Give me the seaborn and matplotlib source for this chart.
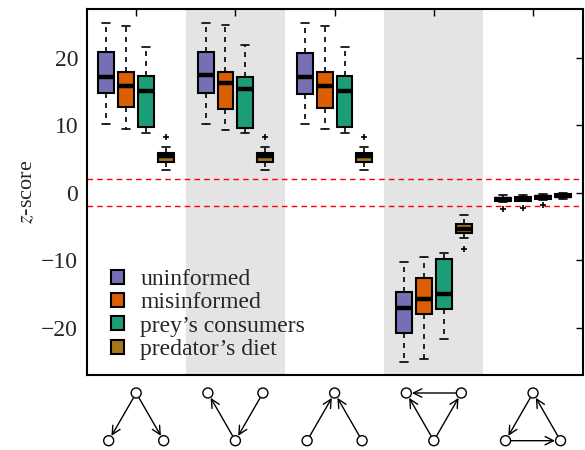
import numpy as np
import pandas as pd
import matplotlib
matplotlib.use("Agg")
import matplotlib.pyplot as plt
from matplotlib.patches import Patch, Circle
import seaborn as sns

# ---------------- data (five-number summaries) ----------------
motifs = ["M1", "M2", "M3", "M4", "M5"]
groups = ["uninformed", "misinformed", "prey\u2019s consumers", "predator\u2019s diet"]
colors = ["#7570b3", "#d95f02", "#1b9e77", "#a6761d"]

# [whisker low, Q1, median, Q3, whisker high] per motif
uninformed = [
    [10.2, 14.7, 17.1, 20.8, 25.1],
    [10.2, 14.7, 17.4, 20.9, 25.2],
    [10.2, 14.6, 17.1, 20.7, 25.1],
    [-25.1, -20.8, -17.1, -14.7, -10.2],
    [-1.35, -1.25, -1.0, -0.75, -0.4],
]
misinformed = [
    [9.5, 12.65, 15.8, 17.9, 24.7],
    [9.3, 12.4, 16.25, 17.8, 24.8],
    [9.5, 12.6, 15.8, 17.8, 24.7],
    [-24.7, -17.9, -15.8, -12.6, -9.5],
    [-1.3, -1.2, -0.95, -0.7, -0.35],
]
prey_consumers = [
    [8.9, 9.7, 15.0, 17.3, 21.6],
    [8.8, 9.6, 15.3, 17.2, 21.8],
    [8.8, 9.7, 15.0, 17.3, 21.6],
    [-21.6, -17.3, -15.0, -9.8, -8.9],
    [-1.1, -1.0, -0.7, -0.45, -0.2],
]
predator_diet = [
    [3.3, 4.6, 5.4, 5.9, 6.7],
    [3.3, 4.6, 5.4, 5.9, 6.7],
    [3.3, 4.6, 5.4, 5.9, 6.7],
    [-6.7, -5.9, -5.4, -4.6, -3.3],
    [-0.95, -0.7, -0.45, -0.25, -0.05],
]
# outliers per motif
uninformed_out = [[], [], [], [], [-2.4]]
misinformed_out = [[], [], [], [], [-2.3]]
prey_consumers_out = [[], [], [], [], [-1.9]]
predator_diet_out = [[8.3], [8.3], [8.3], [-8.3], []]

threshold = 1.96

# motif structure: node slots and directed edges
motif_nodes = [
    ["T", "BL", "BR"],
    ["TL", "TR", "B"],
    ["T", "BL", "BR"],
    ["TL", "TR", "B"],
    ["T", "BL", "BR"],
]
motif_edges = [
    [("T", "BL"), ("T", "BR")],
    [("B", "TL"), ("TR", "B")],
    [("BL", "T"), ("BR", "T")],
    [("TR", "TL"), ("B", "TL"), ("B", "TR")],
    [("T", "BL"), ("BL", "BR"), ("BR", "T")],
]

# ---------------- build long table for seaborn ----------------
summaries = [uninformed, misinformed, prey_consumers, predator_diet]
outliers = [uninformed_out, misinformed_out, prey_consumers_out, predator_diet_out]
rows = []
REP = 20
for g, summ, outs in zip(groups, summaries, outliers):
    for m, s, o in zip(motifs, summ, outs):
        vals = list(np.repeat(s, REP)) + list(o)
        for v in vals:
            rows.append((m, g, v))
df = pd.DataFrame(rows, columns=["motif", "group", "z"])

# ---------------- style ----------------
sns.set_style("white")
plt.rcParams["font.family"] = ["Liberation Serif", "DejaVu Serif"]
plt.rcParams["mathtext.fontset"] = "stix"

fig = plt.figure(figsize=(5.85, 4.5), dpi=100)
ax = fig.add_axes([0.148, 0.1667, 0.848, 0.8133])

for i in range(len(motifs)):
    if i % 2 == 1:
        ax.axvspan(i - 0.5, i + 0.5, color="#e4e4e4", zorder=0, lw=0)

for yv in (threshold, -threshold):
    ax.axhline(yv, color="red", lw=1.0, ls=(0, (4, 3)), zorder=1)

sns.boxplot(
    data=df, x="motif", y="z", hue="group", order=motifs, hue_order=groups,
    palette=colors, saturation=1, width=0.8, gap=0.2, linecolor="black",
    linewidth=1.5, fliersize=5, ax=ax, legend=False,
    flierprops=dict(marker="+", markeredgecolor="black", markeredgewidth=1.2),
    whiskerprops=dict(linestyle=(0, (3, 3)), linewidth=1.2),
    capprops=dict(linewidth=1.2),
    medianprops=dict(linewidth=3.2, color="black"),
)

ax.set_xlim(-0.5, len(motifs) - 0.5)
ax.set_ylim(-27.0, 27.2)
ax.set_yticks([-20, -10, 0, 10, 20])
ax.set_xticks(range(len(motifs)))
ax.set_xticklabels([])
ax.set_xlabel("")
ax.set_ylabel("$z$-score", fontsize=16, labelpad=3)
ax.tick_params(axis="both", direction="in", top=True, right=True, length=5,
               width=1.0, labelsize=17, color="black", pad=6)
for sp in ax.spines.values():
    sp.set_visible(True)
    sp.set_color("black")
    sp.set_linewidth(1.5)

handles = [Patch(facecolor=c, edgecolor="black", lw=1.5) for c in colors]
ax.legend(handles, groups, loc="lower left", bbox_to_anchor=(0.02, 0.002),
          frameon=False, fontsize=17, handlelength=0.55, handleheight=0.55,
          handletextpad=0.7, labelspacing=0.1, borderaxespad=0.2)

# ---------------- motif diagrams below the axis ----------------
axm = fig.add_axes([0.148, 0.0, 0.848, 0.155])
px_per_unit = 0.848 * 585 / len(motifs)
height_units = 0.155 * 450 / px_per_unit
axm.set_xlim(-0.5, len(motifs) - 0.5)
axm.set_ylim(0, height_units)
axm.axis("off")
top_y = 57.0 / px_per_unit
bot_y = 9.3 / px_per_unit
dx = 27.5 / px_per_unit
r = 5.0 / px_per_unit
slot = {"T": (0, top_y), "BL": (-dx, bot_y), "BR": (dx, bot_y),
        "TL": (-dx, top_y), "TR": (dx, top_y), "B": (0, bot_y)}
for i, (nodes, edges) in enumerate(zip(motif_nodes, motif_edges)):
    for n in nodes:
        x0, y0 = slot[n]
        axm.add_patch(Circle((i + x0, y0), r, facecolor="white",
                             edgecolor="black", lw=1.0, zorder=3))
    for a, b in edges:
        xa, ya = slot[a]
        xb, yb = slot[b]
        axm.annotate("", xy=(i + xb, yb), xytext=(i + xa, ya),
                     arrowprops=dict(arrowstyle="->,head_length=0.6,head_width=0.3",
                                     lw=1.0, color="black", shrinkA=4, shrinkB=4),
                     zorder=2)

fig.savefig("out.png", dpi=100)
